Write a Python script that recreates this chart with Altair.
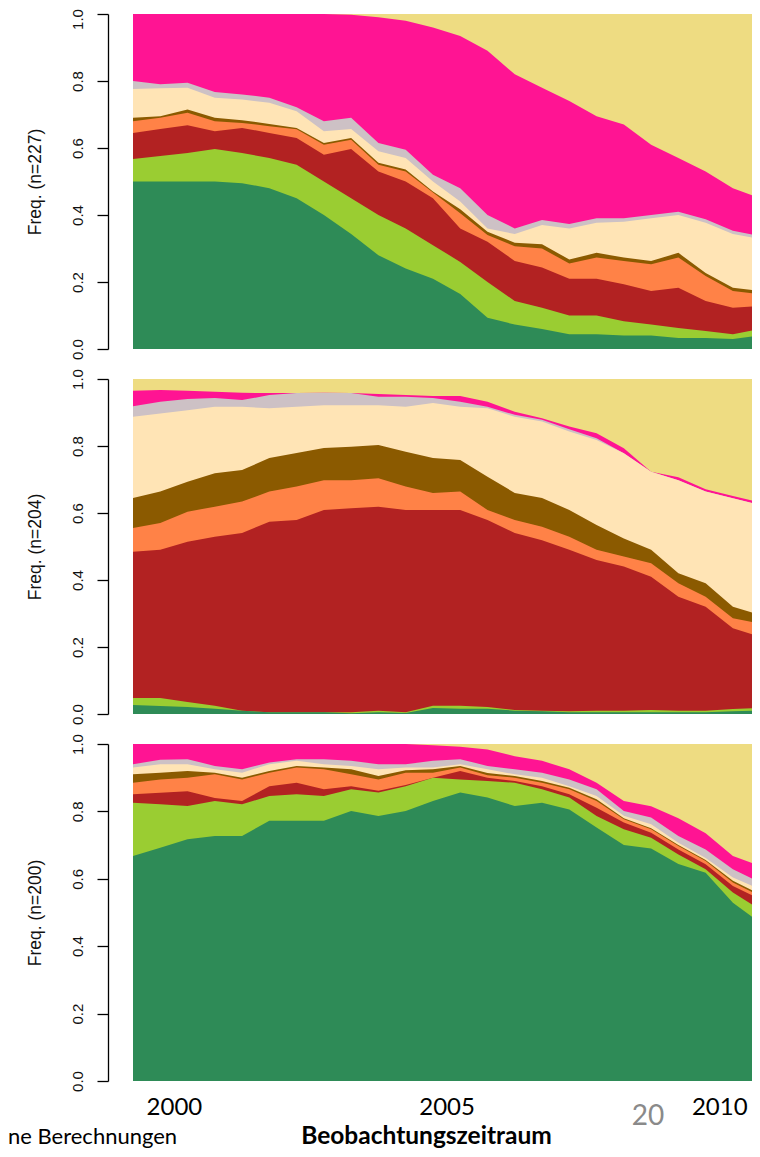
import altair as alt
import pandas as pd

# time points (years) at which the state distribution was read
T = [1999.25, 1999.75, 2000.25, 2000.75, 2001.25, 2001.75, 2002.25, 2002.75,
     2003.25, 2003.75, 2004.25, 2004.75, 2005.25, 2005.75, 2006.25, 2006.75,
     2007.25, 2007.75, 2008.25, 2008.75, 2009.25, 2009.75, 2010.25, 2010.75]

STATES = ["s1", "s2", "s3", "s4", "s5", "s6", "s7", "s8", "s9"]
COLORS = ["#2E8B57", "#9ACD32", "#B22222", "#FF8247", "#8B5A00",
          "#FFE4B5", "#CDC1C5", "#FF1493", "#EEDC82"]

ONES = [1.0] * 24

# ---- panel 1 (n=227): cumulative upper boundary of each state ----
p1_s1 = [0.50, 0.50, 0.50, 0.50, 0.495, 0.48, 0.45, 0.40, 0.343, 0.28, 0.24, 0.21,
         0.164, 0.093, 0.073, 0.06, 0.044, 0.044, 0.04, 0.04, 0.033, 0.033, 0.03, 0.04]
p1_s2 = [0.567, 0.576, 0.585, 0.597, 0.585, 0.57, 0.55, 0.50, 0.45, 0.40, 0.36, 0.31,
         0.26, 0.20, 0.143, 0.123, 0.10, 0.10, 0.083, 0.073, 0.063, 0.054, 0.044, 0.06]
p1_s3 = [0.645, 0.657, 0.668, 0.65, 0.66, 0.645, 0.63, 0.58, 0.597, 0.53, 0.50, 0.45,
         0.36, 0.32, 0.263, 0.243, 0.21, 0.21, 0.193, 0.173, 0.183, 0.143, 0.123, 0.128]
p1_s4 = [0.68, 0.69, 0.705, 0.68, 0.675, 0.665, 0.656, 0.61, 0.625, 0.55, 0.53, 0.467,
         0.405, 0.34, 0.307, 0.30, 0.255, 0.273, 0.263, 0.253, 0.273, 0.218, 0.173, 0.164]
p1_s5 = [0.69, 0.695, 0.715, 0.69, 0.683, 0.672, 0.66, 0.615, 0.63, 0.556, 0.536, 0.47,
         0.417, 0.35, 0.317, 0.313, 0.267, 0.287, 0.273, 0.263, 0.287, 0.227, 0.183, 0.173]
p1_s6 = [0.776, 0.778, 0.78, 0.75, 0.745, 0.735, 0.71, 0.65, 0.657, 0.59, 0.57, 0.50,
         0.44, 0.36, 0.343, 0.37, 0.36, 0.377, 0.38, 0.39, 0.40, 0.377, 0.343, 0.328]
p1_s7 = [0.80, 0.79, 0.795, 0.767, 0.76, 0.75, 0.722, 0.68, 0.69, 0.615, 0.595, 0.52,
         0.48, 0.40, 0.36, 0.385, 0.373, 0.39, 0.39, 0.40, 0.41, 0.387, 0.353, 0.337]
p1_s8 = [1.0, 1.0, 1.0, 1.0, 1.0, 1.0, 1.0, 1.0, 0.998, 0.99, 0.98, 0.96,
         0.934, 0.89, 0.82, 0.78, 0.74, 0.695, 0.67, 0.61, 0.57, 0.53, 0.48, 0.45]

# ---- panel 2 (n=204) ----
p2_s1 = [0.027, 0.024, 0.021, 0.016, 0.01, 0.005, 0.005, 0.005, 0.002, 0.005, 0.003, 0.018,
         0.016, 0.016, 0.01, 0.008, 0.005, 0.005, 0.005, 0.005, 0.005, 0.005, 0.008, 0.01]
p2_s2 = [0.048, 0.048, 0.036, 0.025, 0.01, 0.005, 0.005, 0.005, 0.005, 0.01, 0.005, 0.025,
         0.025, 0.021, 0.012, 0.01, 0.008, 0.01, 0.01, 0.012, 0.01, 0.01, 0.015, 0.018]
p2_s3 = [0.484, 0.49, 0.514, 0.529, 0.54, 0.574, 0.579, 0.609, 0.614, 0.619, 0.609, 0.609,
         0.609, 0.579, 0.54, 0.519, 0.49, 0.46, 0.44, 0.41, 0.35, 0.32, 0.256, 0.23]
p2_s4 = [0.555, 0.57, 0.604, 0.619, 0.634, 0.664, 0.679, 0.698, 0.698, 0.704, 0.679, 0.66,
         0.664, 0.609, 0.579, 0.559, 0.529, 0.49, 0.47, 0.45, 0.39, 0.35, 0.286, 0.27]
p2_s5 = [0.645, 0.664, 0.693, 0.719, 0.728, 0.764, 0.779, 0.794, 0.798, 0.803, 0.783, 0.764,
         0.758, 0.708, 0.66, 0.645, 0.609, 0.564, 0.524, 0.49, 0.42, 0.39, 0.32, 0.296]
p2_s6 = [0.887, 0.897, 0.907, 0.917, 0.917, 0.913, 0.917, 0.922, 0.922, 0.922, 0.917, 0.928,
         0.917, 0.913, 0.887, 0.873, 0.843, 0.818, 0.778, 0.723, 0.698, 0.664, 0.644, 0.624]
p2_s7 = [0.919, 0.932, 0.94, 0.943, 0.937, 0.952, 0.958, 0.959, 0.958, 0.947, 0.947, 0.943,
         0.932, 0.917, 0.893, 0.878, 0.85, 0.823, 0.778, 0.723, 0.698, 0.664, 0.644, 0.624]
p2_s8 = [0.965, 0.967, 0.965, 0.962, 0.959, 0.958, 0.958, 0.959, 0.958, 0.955, 0.952, 0.949,
         0.949, 0.932, 0.902, 0.883, 0.858, 0.838, 0.793, 0.723, 0.707, 0.671, 0.651, 0.631]

# ---- panel 3 (n=200) ----
p3_s1 = [0.668, 0.692, 0.717, 0.727, 0.727, 0.772, 0.772, 0.772, 0.801, 0.786, 0.801, 0.831,
         0.856, 0.841, 0.816, 0.826, 0.806, 0.752, 0.70, 0.69, 0.644, 0.618, 0.529, 0.47]
p3_s2 = [0.826, 0.821, 0.816, 0.831, 0.821, 0.846, 0.851, 0.846, 0.866, 0.856, 0.875, 0.90,
         0.895, 0.89, 0.885, 0.866, 0.841, 0.786, 0.747, 0.722, 0.672, 0.628, 0.559, 0.509]
p3_s3 = [0.851, 0.855, 0.86, 0.84, 0.831, 0.875, 0.885, 0.866, 0.875, 0.861, 0.878, 0.90,
         0.92, 0.90, 0.89, 0.875, 0.851, 0.811, 0.767, 0.737, 0.687, 0.643, 0.579, 0.539]
p3_s4 = [0.885, 0.895, 0.90, 0.91, 0.895, 0.915, 0.93, 0.925, 0.91, 0.895, 0.915, 0.915,
         0.93, 0.907, 0.90, 0.885, 0.866, 0.831, 0.777, 0.747, 0.697, 0.653, 0.589, 0.549]
p3_s5 = [0.91, 0.915, 0.92, 0.915, 0.90, 0.92, 0.935, 0.93, 0.925, 0.905, 0.922, 0.925,
         0.935, 0.914, 0.905, 0.89, 0.87, 0.836, 0.78, 0.75, 0.70, 0.656, 0.594, 0.554]
p3_s6 = [0.93, 0.94, 0.94, 0.925, 0.915, 0.94, 0.95, 0.94, 0.935, 0.925, 0.93, 0.93,
         0.94, 0.925, 0.91, 0.90, 0.875, 0.846, 0.787, 0.762, 0.707, 0.662, 0.604, 0.569]
p3_s7 = [0.94, 0.953, 0.955, 0.935, 0.925, 0.945, 0.955, 0.955, 0.95, 0.94, 0.94, 0.95,
         0.955, 0.935, 0.925, 0.915, 0.895, 0.866, 0.801, 0.782, 0.727, 0.687, 0.628, 0.589]
p3_s8 = [1.0, 1.0, 1.0, 1.0, 1.0, 1.0, 1.0, 1.0, 1.0, 1.0, 1.0, 0.996,
         0.992, 0.984, 0.964, 0.95, 0.925, 0.885, 0.831, 0.815, 0.78, 0.735, 0.668, 0.638]

Y_TICKS = [0.0, 0.2, 0.4, 0.6, 0.8, 1.0]
X_TICKS = [2000, 2005, 2010]
X_TITLE = "Beobachtungszeitraum"
SLIDE_NO = "20"
SOURCE_TEXT = "ne Berechnungen"

RFONT = "Liberation Sans"
SFONT = "Lato"
PLOT_W = 619
X_DOMAIN = [1999.25, 2010.60]


def panel(tops, ylabel, height, bottom=False, top_shift=0):
    rows = []
    for st, vals in zip(STATES, tops):
        for t, v in zip(T, vals):
            rows.append({"t": t, "state": st, "top": v})
    df = pd.DataFrame(rows)
    xscale = alt.Scale(domain=X_DOMAIN, nice=False, zero=False)
    yscale = alt.Scale(domain=[0, 1], nice=False, zero=True)
    label_offset = {"condition": {"test": "datum.value == 1", "value": top_shift},
                    "value": 0}
    yaxis = alt.Axis(values=Y_TICKS, format=".1f", offset=25, tickSize=11,
                     domainColor="black", tickColor="black", domainWidth=1.3,
                     tickWidth=1.3, labelAngle=270, labelAlign="center",
                     labelBaseline="alphabetic", labelPadding=15, labelFont=RFONT,
                     labelFontSize=15, labelColor="#111111", labelFlush=False,
                     labelOffset=label_offset,
                     labelOverlap=False, grid=False, title=ylabel,
                     titleFont=RFONT, titleFontSize=17.5, titleFontWeight="normal",
                     titleColor="#111111", titlePadding=26)
    if bottom:
        xaxis = alt.Axis(values=X_TICKS, format="d", domain=False, ticks=False,
                         tickSize=0, grid=False, labelFont=SFONT, labelFontSize=24,
                         labelColor="black", labelBaseline="alphabetic",
                         labelPadding=33, labelFlush=False, title=X_TITLE,
                         titleFont=SFONT, titleFontSize=24.5, titleFontWeight="bold",
                         titleColor="black", titleX=293, titleY=62,
                         titleBaseline="alphabetic", titleAlign="center")
    else:
        xaxis = None
    layers = []
    for i in range(8, -1, -1):
        layers.append(
            alt.Chart(df)
            .transform_filter(alt.datum.state == STATES[i])
            .mark_area(color=COLORS[i], interpolate="linear", clip=True, opacity=1)
            .encode(
                x=alt.X("t:Q", scale=xscale, axis=xaxis),
                y=alt.Y("top:Q", scale=yscale, axis=yaxis, stack=None),
            )
        )
    if bottom:
        tdf = pd.DataFrame({"slide": [SLIDE_NO], "src": [SOURCE_TEXT]})
        layers.append(
            alt.Chart(tdf).mark_text(font=SFONT, fontSize=28, color="#8a8a8a",
                                     align="center", baseline="alphabetic")
            .encode(text="slide:N", x=alt.value(515), y=alt.value(381))
        )
        layers.append(
            alt.Chart(tdf).mark_text(font=SFONT, fontSize=22, color="black",
                                     align="left", baseline="alphabetic")
            .encode(text="src:N", x=alt.value(-125), y=alt.value(400))
        )
    return alt.layer(*layers).properties(width=PLOT_W, height=height)


p1 = panel([p1_s1, p1_s2, p1_s3, p1_s4, p1_s5, p1_s6, p1_s7, p1_s8, ONES], "Freq. (n=227)", 335,
           top_shift=5)
p2 = panel([p2_s1, p2_s2, p2_s3, p2_s4, p2_s5, p2_s6, p2_s7, p2_s8, ONES], "Freq. (n=204)", 335)
p3 = panel([p3_s1, p3_s2, p3_s3, p3_s4, p3_s5, p3_s6, p3_s7, p3_s8, ONES], "Freq. (n=200)", 337,
           bottom=True)

chart = (
    alt.vconcat(p1, p2, p3, spacing=30, bounds="flush")
    .properties(padding={"left": 0, "top": 0, "right": 0, "bottom": 0})
    .configure_view(stroke=None)
)

chart.save("out.html", embed_options={"renderer": "svg", "actions": False})
